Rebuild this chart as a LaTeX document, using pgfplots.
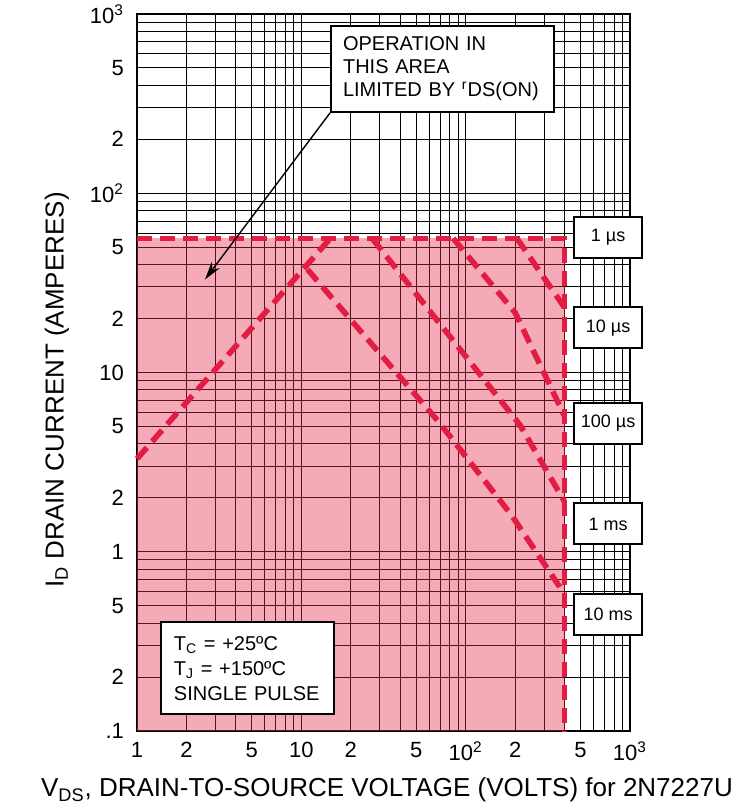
\documentclass[border=0pt]{standalone}
\usepackage{pgfplots}
\pgfplotsset{compat=1.18}
\usepackage{fontspec}
\setmainfont{Liberation Sans}
\usetikzlibrary{arrows.meta}
\definecolor{soared}{RGB}{226,28,66}
\definecolor{soafill}{RGB}{228,45,75}
\tikzset{
  soa/.style={color=soared, line width=2.8pt, dash pattern=on 7.5pt off 4pt, mark=none, line cap=butt},
  lbox/.style={draw=black, line width=1pt, fill=white, minimum width=34pt, minimum height=20.5pt, inner sep=0pt, font=\fontsize{9}{11}\selectfont},
}
\begin{document}
\begin{tikzpicture}
\useasboundingbox (-68.5pt,-40.5pt) rectangle (299pt,365.5pt);
\begin{axis}[
  at={(0,0)}, anchor=south west,
  scale only axis, width=246.5pt, height=358.5pt,
  xmode=log, ymode=log,
  xmin=1, xmax=1000, ymin=0.1, ymax=1000,
  xtick={1,2,3,4,5,6,7,8,9,10,20,30,40,50,60,70,80,90,100,200,300,400,500,600,700,800,900,1000},
  xticklabels={1,2,,,5,,,,,10,2,,,5,,,,,10\textsuperscript{2},2,,,5,,,,,10\textsuperscript{3}},
  ytick={0.1,0.2,0.3,0.4,0.5,0.6,0.7,0.8,0.9,1,2,3,4,5,6,7,8,9,10,20,30,40,50,60,70,80,90,100,200,300,400,500,600,700,800,900,1000},
  yticklabels={.1,2,,,5,,,,,1,2,,,5,,,,,10,2,,,5,,,,,10\textsuperscript{2},2,,,5,,,,,10\textsuperscript{3}},
  xminorticks=false, yminorticks=false,
  major tick length=0pt,
  grid=major,
  major grid style={black, line width=0.5pt},
  axis line style={black, line width=0.6pt},
  tick label style={font=\fontsize{11}{13}\selectfont},
  yticklabel style={xshift=-3pt},
  xticklabel style={yshift=-2pt},
  xlabel={V\textsubscript{DS}, DRAIN-TO-SOURCE VOLTAGE (VOLTS) for 2N7227U},
  ylabel={I\textsubscript{D} DRAIN CURRENT (AMPERES)},
  label style={font=\fontsize{13}{15}\selectfont},
  xlabel style={at={(axis description cs:0.507,-0.0823)}, anchor=center},
  ylabel style={at={(axis description cs:-0.1623,0.4756)}, anchor=center},
  clip=false,
]
% safe operating area fill
\addplot[draw=none, fill=soafill, fill opacity=0.4, mark=none] coordinates {(1,0.1) (1,56) (400,56) (400,0.1)};
% 1 us boundary
\addplot[soa] coordinates {(1,56) (400,56) (400,0.1)};
% 10 us
\addplot[soa] coordinates {(205,56) (400,23)};
% 100 us
\addplot[soa] coordinates {(84,56) (200,21.6) (400,5.7)};
% 1 ms
\addplot[soa] coordinates {(27,56) (214,5.1) (400,1.9)};
% 10 ms
\addplot[soa] coordinates {(10.9,37.6) (68.6,5.3) (190,1.6) (400,0.58)};
% rDS(on) limit
\addplot[soa] coordinates {(1,3.3) (15,56)};

\node[lbox] at (axis cs:736,56.8) {1 µs};
\node[lbox] at (axis cs:736,17.8) {10 µs};
\node[lbox] at (axis cs:736,5.19) {100 µs};
\node[lbox] at (axis cs:736,1.43) {1 ms};
\node[lbox] at (axis cs:736,0.445) {10 ms};

\node[draw=black, line width=1pt, fill=white, anchor=north west, inner xsep=6pt, inner ysep=0pt,
      minimum height=43pt, text width=99.5pt, align=left, font=\fontsize{10}{11.5}\selectfont]
      (op) at (axis cs:14.95,869) {OPERATION IN\\THIS AREA\\LIMITED BY \textsuperscript{r}DS(ON)};
\draw[black, line width=0.7pt, -{Stealth[length=9pt,width=5pt]}] (op.south west) -- (axis cs:2.59,33);

\node[draw=black, line width=1pt, fill=white, anchor=north west, inner xsep=6.5pt, inner ysep=0pt,
      minimum height=46pt, text width=73.5pt, align=left, font=\fontsize{10}{12.5}\selectfont]
      at (axis cs:1.38,0.41) {T\textsubscript{C} = +25ºC\\T\textsubscript{J} = +150ºC\\SINGLE PULSE};
\end{axis}
\end{tikzpicture}
\end{document}
